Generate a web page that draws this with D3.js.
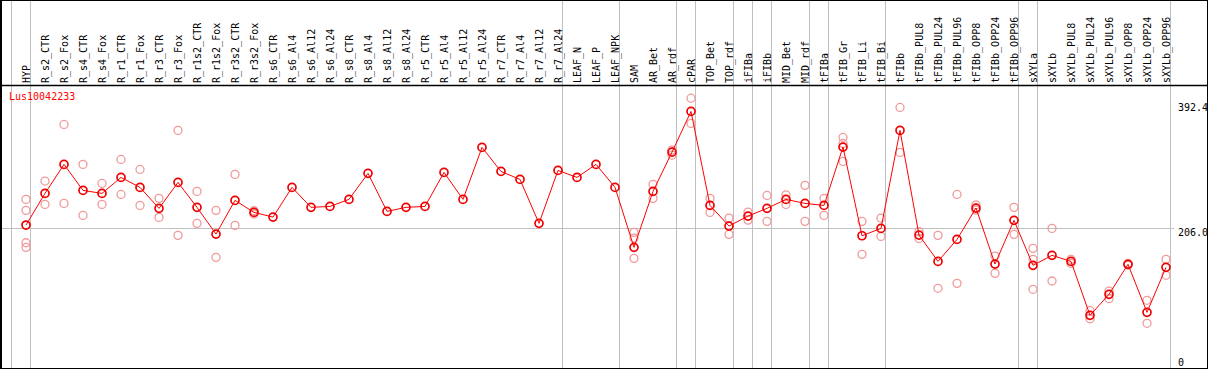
<!DOCTYPE html>
<html><head><meta charset="utf-8">
<script src="https://cdnjs.cloudflare.com/ajax/libs/d3/7.8.5/d3.min.js"></script>
<style>
html,body{margin:0;padding:0;background:#fff;}
svg text{font-family:"DejaVu Sans Mono",monospace;font-size:10px;}
</style></head>
<body>
<svg id="c" width="1209" height="370"></svg>
<script>
const categories = ["HYP","R_s2_CTR","R_s2_Fox","R_s4_CTR","R_s4_Fox","R_r1_CTR","R_r1_Fox","R_r3_CTR","R_r3_Fox","R_r1s2_CTR","R_r1s2_Fox","R_r3s2_CTR","R_r3s2_Fox","R_s6_CTR","R_s6_Al4","R_s6_Al12","R_s6_Al24","R_s8_CTR","R_s8_Al4","R_s8_Al12","R_s8_Al24","R_r5_CTR","R_r5_Al4","R_r5_Al12","R_r5_Al24","R_r7_CTR","R_r7_Al4","R_r7_Al12","R_r7_Al24","LEAF_N","LEAF_P","LEAF_NPK","SAM","AR_Bet","AR_rdf","cPAR","TOP_Bet","TOP_rdf","iFIBa","iFIBb","MID_Bet","MID_rdf","tFIBa","tFIB_Gr","tFIB_Li","tFIB_Bi","tFIBb","tFIBb_PUL8","tFIBb_PUL24","tFIBb_PUL96","tFIBb_OPP8","tFIBb_OPP24","tFIBb_OPP96","sXYLa","sXYLb","sXYLb_PUL8","sXYLb_PUL24","sXYLb_PUL96","sXYLb_OPP8","sXYLb_OPP24","sXYLb_OPP96"];

const means = [210.3,257.5,300.8,262.0,257.5,281.4,266.5,235.2,273.9,236.7,196.8,247.1,229.2,222.2,266.5,236.7,238.1,248.6,287.4,230.7,236.7,238.1,288.8,248.6,326.1,290.3,278.4,212.8,291.8,281.4,300.8,266.5,177.0,260.5,319.1,379.8,239.6,208.8,223.7,235.2,248.6,242.6,239.6,326.6,194.3,205.3,351.5,195.3,156.1,188.9,235.6,152.1,217.3,150.2,165.1,156.1,75.6,106.9,151.7,80.1,147.2];

const replicates = [
 [248.6,232.2,183.9,177.0],[275.9,241.1],[360.4,242.6],[300.8,224.7],[272.4,241.1],
 [308.2,256.0],[293.3,239.6],[250.1,221.7],[351.5,194.9],[260.5,212.8],
 [232.2,162.1],[285.9,209.8],[231.6,226.7],[],[],
 [],[],[],[],[],[],[],[],[],[],[],[],[],[],[],[],[],
 [199.4,190.9,160.6],[271.0,250.1],[322.1,314.6],[399.6,361.9],[250.1,229.2],
 [220.7,196.4],[229.6,217.7],[254.5,215.8],[255.4,241.1],[269.5,215.8],
 [250.1,224.7],[341.0,332.1,305.2],[215.8,166.6],[220.7,193.4],[385.8,318.7],
 [200.3,190.4],[194.9,115.9],[256.0,123.3],[240.5,232.6],[164.0,138.2],
 [236.7,196.4],[175.5,159.1,114.4],[205.3,126.8],[159.1,153.1],[82.5,70.5],
 [111.8,100.4],[153.1,150.7],[98.0,63.7],[159.1,135.3]
];

const groupEnds = ["HYP","R_r7_Al24","LEAF_NPK","AR_rdf","cPAR","TOP_rdf","iFIBa","iFIBb","MID_rdf","tFIBa","tFIB_Bi","tFIBb_OPP96","sXYLa","sXYLb_OPP96"];
const yTicks = [392.4, 206.0, 0];
const geneName = "Lus10042233";

const svg = d3.select("#c");
const W = 1209, H = 370;
const x = d3.scalePoint().domain(categories).range([26, 1166]).padding(0);
const step = x.step();
const y = d3.scaleLinear().domain([0, 392.4]).range([366, 103]);

// vertical group separators
const sepX = [x(categories[0]) - step + 4].concat(groupEnds.map(c => x(c) + 4));
svg.selectAll("line.sep").data(sepX).enter().append("line")
  .attr("x1", d => d + 0.5).attr("x2", d => d + 0.5)
  .attr("y1", 0).attr("y2", 368)
  .attr("stroke", "#c0c0c0").attr("stroke-width", 1);

// horizontal gridline at 206
svg.append("line")
  .attr("x1", 1).attr("x2", 1174)
  .attr("y1", Math.round(y(206.0)) + 0.5).attr("y2", Math.round(y(206.0)) + 0.5)
  .attr("stroke", "#c0c0c0").attr("stroke-width", 1);

// frame
svg.append("rect").attr("x", 1).attr("y", 0.5).attr("width", 1206.5).attr("height", 368)
  .attr("fill", "none").attr("stroke", "#000").attr("stroke-width", 1);
svg.append("line").attr("x1", 1).attr("x2", 1).attr("y1", 0).attr("y2", 369)
  .attr("stroke", "#000").attr("stroke-width", 2);
svg.append("line").attr("x1", 1).attr("x2", 1208).attr("y1", 85.5).attr("y2", 85.5)
  .attr("stroke", "#000").attr("stroke-width", 1.5);

// header labels
svg.selectAll("text.cat").data(categories).enter().append("text")
  .attr("class", "cat")
  .attr("transform", d => `translate(${x(d) + 4},83) rotate(-90)`)
  .attr("text-anchor", "start")
  .attr("fill", "#000")
  .text(d => d);

// axis labels right
svg.selectAll("text.yt").data(yTicks).enter().append("text")
  .attr("x", 1178)
  .attr("y", d => d === 0 ? y(d) : y(d) + 8)
  .attr("fill", "#000")
  .text(d => d === 0 ? "0" : d.toFixed(1));

// gene name
svg.append("text").attr("x", 9).attr("y", 100).attr("fill", "#ff0000").text(geneName);

// replicates
const repData = [];
replicates.forEach((arr, i) => arr.forEach(v => repData.push({c: categories[i], v})));
svg.selectAll("circle.rep").data(repData).enter().append("circle")
  .attr("cx", d => x(d.c)).attr("cy", d => y(d.v)).attr("r", 4)
  .attr("fill", "none").attr("stroke", "#f09a9a").attr("stroke-width", 1.3);

// mean line
const line = d3.line().x((d, i) => x(categories[i])).y(d => y(d));
svg.append("path").datum(means).attr("d", line)
  .attr("fill", "none").attr("stroke", "#ff0000").attr("stroke-width", 1);

// mean markers
svg.selectAll("circle.mean").data(means).enter().append("circle")
  .attr("cx", (d, i) => x(categories[i])).attr("cy", d => y(d)).attr("r", 4)
  .attr("fill", "none").attr("stroke", "#ee0000").attr("stroke-width", 1.7);
</script>
</body></html>
